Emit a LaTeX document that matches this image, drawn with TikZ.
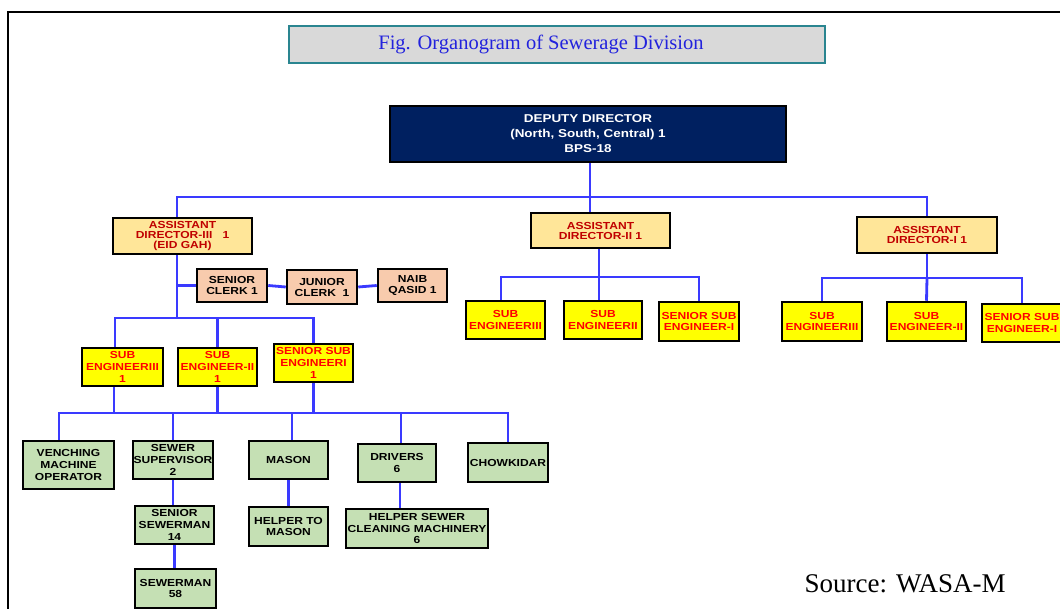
\documentclass[tikz,border=0pt]{standalone}
\usepackage{fontspec}
\setmainfont{Liberation Serif}
\newfontfamily\chartfont[FakeStretch=1.18]{Liberation Sans}
\usepackage{xcolor}
\usepackage{tikz}
\usetikzlibrary{backgrounds}

\definecolor{ddnavy}{HTML}{002060}
\definecolor{adfill}{HTML}{FFE699}
\definecolor{adtext}{HTML}{C00000}
\definecolor{clerkfill}{HTML}{F8CBAD}
\definecolor{subfill}{HTML}{FFFF00}
\definecolor{staffill}{HTML}{C5E0B4}
\definecolor{linkblue}{HTML}{3A3AFF}
\definecolor{titleteal}{HTML}{2A8590}
\definecolor{titlegrey}{HTML}{D9D9D9}
\definecolor{titleblue}{HTML}{2222DD}

\begin{document}
\begin{tikzpicture}[x=1pt,y=-1pt,
  sz/.style 2 args={minimum width=#1pt,minimum height=#2pt},
  box/.style={draw=black,line width=2.5pt,inner sep=0pt,align=center,
    font=\chartfont\bfseries\fontsize{10.2}{11.6}\selectfont},
  ddbox/.style={box,fill=ddnavy,text=white,
    font=\chartfont\bfseries\fontsize{11.4}{15}\selectfont},
  adbox/.style={box,fill=adfill,text=adtext,
    font=\chartfont\bfseries\fontsize{10.2}{10}\selectfont},
  clerkbox/.style={box,fill=clerkfill,text=black,
    font=\chartfont\bfseries\fontsize{10.2}{11}\selectfont},
  subbox/.style={box,fill=subfill,text=red},
  staffbox/.style={box,fill=staffill,text=black},
  link/.style={draw=linkblue,line width=2.8pt}]
\useasboundingbox (0,0) rectangle (1060,609);
\clip (0,0) rectangle (1060,609);

% frame and title
\draw[line width=2pt] (7.5,612) -- (7.5,12) -- (1062,12);
\node[draw=titleteal,fill=titlegrey,line width=2.5pt,sz={536}{37},
  text=titleblue,font=\fontsize{20.5}{24}\selectfont] (title) at (557,44.5)
  {Fig. Organogram of Sewerage Division\hspace*{32pt}};

% top
\node[ddbox,sz={396}{56}] (dd) at (588,134) {DEPUTY DIRECTOR\\(North, South, Central) 1\\BPS-18};
\node[adbox,sz={139}{36}] (ad3) at (182.5,236) {ASSISTANT\\DIRECTOR-III\ \ \ 1\\(EID GAH)};
\node[adbox,sz={139}{35}] (ad2) at (600.5,230.5) {ASSISTANT\\DIRECTOR-II 1};
\node[adbox,sz={140}{36}] (ad1) at (927,235) {ASSISTANT\\DIRECTOR-I 1};

% office staff
\node[clerkbox,sz={70}{33}] (sc) at (232,285.5) {SENIOR\\CLERK 1};
\node[clerkbox,sz={70}{34}] (jc) at (322,287) {JUNIOR\\CLERK\ \ 1};
\node[clerkbox,sz={69}{33}] (nq) at (412.5,285.5) {NAIB\\QASID 1};

% sub engineers
\node[subbox,sz={81}{38}] (se3a) at (122.5,367) {SUB\\ENGINEERIII\\1};
\node[subbox,sz={79}{38}] (se2a) at (217.5,367) {SUB\\ENGINEER-II\\1};
\node[subbox,sz={79}{38}] (ssea) at (313.5,363) {SENIOR SUB\\ENGINEERI\\1};
\node[subbox,sz={79}{38}] (se3b) at (505.5,320) {SUB\\ENGINEERIII};
\node[subbox,sz={78}{38}] (se2b) at (603,320) {SUB\\ENGINEERII};
\node[subbox,sz={80}{39}] (sseb) at (699,321.5) {SENIOR SUB\\ENGINEER-I};
\node[subbox,sz={80}{39}] (se3c) at (822,321.5) {SUB\\ENGINEERIII};
\node[subbox,sz={79}{39}] (se2c) at (926.5,321.5) {SUB\\ENGINEER-II};
\node[subbox,sz={80}{38}] (ssec) at (1022,323) {SENIOR SUB\\ENGINEER-I};

% field staff
\node[staffbox,sz={91}{48}] (ven) at (68.5,465) {VENCHING\\MACHINE\\OPERATOR};
\node[staffbox,sz={80}{38}] (ssup) at (173,460) {SEWER\\SUPERVISOR\\2};
\node[staffbox,sz={79}{38}] (mason) at (288.5,460) {MASON};
\node[staffbox,sz={78}{38}] (drivers) at (397,463) {DRIVERS\\6};
\node[staffbox,sz={80}{39}] (chow) at (508,462.5) {CHOWKIDAR};
\node[staffbox,sz={79}{38}] (ssew) at (174.5,525) {SENIOR\\SEWERMAN\\14};
\node[staffbox,sz={81}{39}] (sewer) at (175.5,588.5) {SEWERMAN\\58};
\node[staffbox,sz={79}{39}] (hmason) at (288.5,526.5) {HELPER TO\\MASON};
\node[staffbox,sz={142}{39}] (hscm) at (417,528.5) {HELPER SEWER\\CLEANING MACHINERY\\6};

\node[anchor=base west,font=\fontsize{27}{30}\selectfont] (src) at (801,592) {Source: WASA-M};

\begin{scope}[on background layer]
% deputy director to assistant directors
\coordinate (ddbus) at (590,197);
\draw[link] (dd.south -| ddbus) -- (ddbus);
\draw[link] ([xshift=-5.5pt]ad3.north) |- (ddbus) -| (ad1.north);
\draw[link] (ddbus) -- (ddbus |- ad2.north);

% assistant director-III
\coordinate (ad3bus) at (177,318);
\draw[link] (ad3bus |- ad3.south) -- (ad3bus);
\draw[link] (ad3bus |- sc.west) -- (sc.west);
\draw[link] (sc.east) -- (jc.west);
\draw[link] (jc.east) -- (nq.west);
\draw[link] ([xshift=-7.5pt]se3a.north) |- (ad3bus) -| (ssea.north);
\draw[link] (se2a.north) -- (se2a.north |- ad3bus);

% sub engineers to field staff
\coordinate (gbus) at (300,413);
\draw[link] ([xshift=-8.5pt]se3a.south) -- ([xshift=-8.5pt]se3a.south |- gbus);
\draw[link] (se2a.south) -- (se2a.south |- gbus);
\draw[link] (ssea.south) -- (ssea.south |- gbus);
\draw[link] ([xshift=-9.5pt]ven.north) |- (gbus) -| (chow.north);
\draw[link] (ssup.north) -- (ssup.north |- gbus);
\draw[link] ([xshift=3.5pt]mason.north) -- ([xshift=3.5pt]mason.north |- gbus);
\draw[link] ([xshift=4pt]drivers.north) -- ([xshift=4pt]drivers.north |- gbus);
\draw[link] (ssup.south) -- (ssup.south |- ssew.north);
\draw[link] (ssew.south) -- (ssew.south |- sewer.north);
\draw[link] (mason.south) -- (hmason.north);
\draw[link] ([xshift=3pt]drivers.south) -- ([xshift=3pt]drivers.south |- hscm.north);

% assistant director-II
\coordinate (ad2bus) at (599,277);
\draw[link] (ad2bus |- ad2.south) -- (ad2bus);
\draw[link] ([xshift=-4.5pt]se3b.north) |- (ad2bus) -| (sseb.north);
\draw[link] (ad2bus) -- (ad2bus |- se2b.north);

% assistant director-I
\coordinate (ad1bus) at (927,278);
\draw[link] (ad1.south) -- (ad1bus);
\draw[link] (se3c.north) |- (ad1bus) -| (ssec.north);
\draw[link] (ad1bus) -- (se2c.north);
\end{scope}
\end{tikzpicture}
\end{document}
